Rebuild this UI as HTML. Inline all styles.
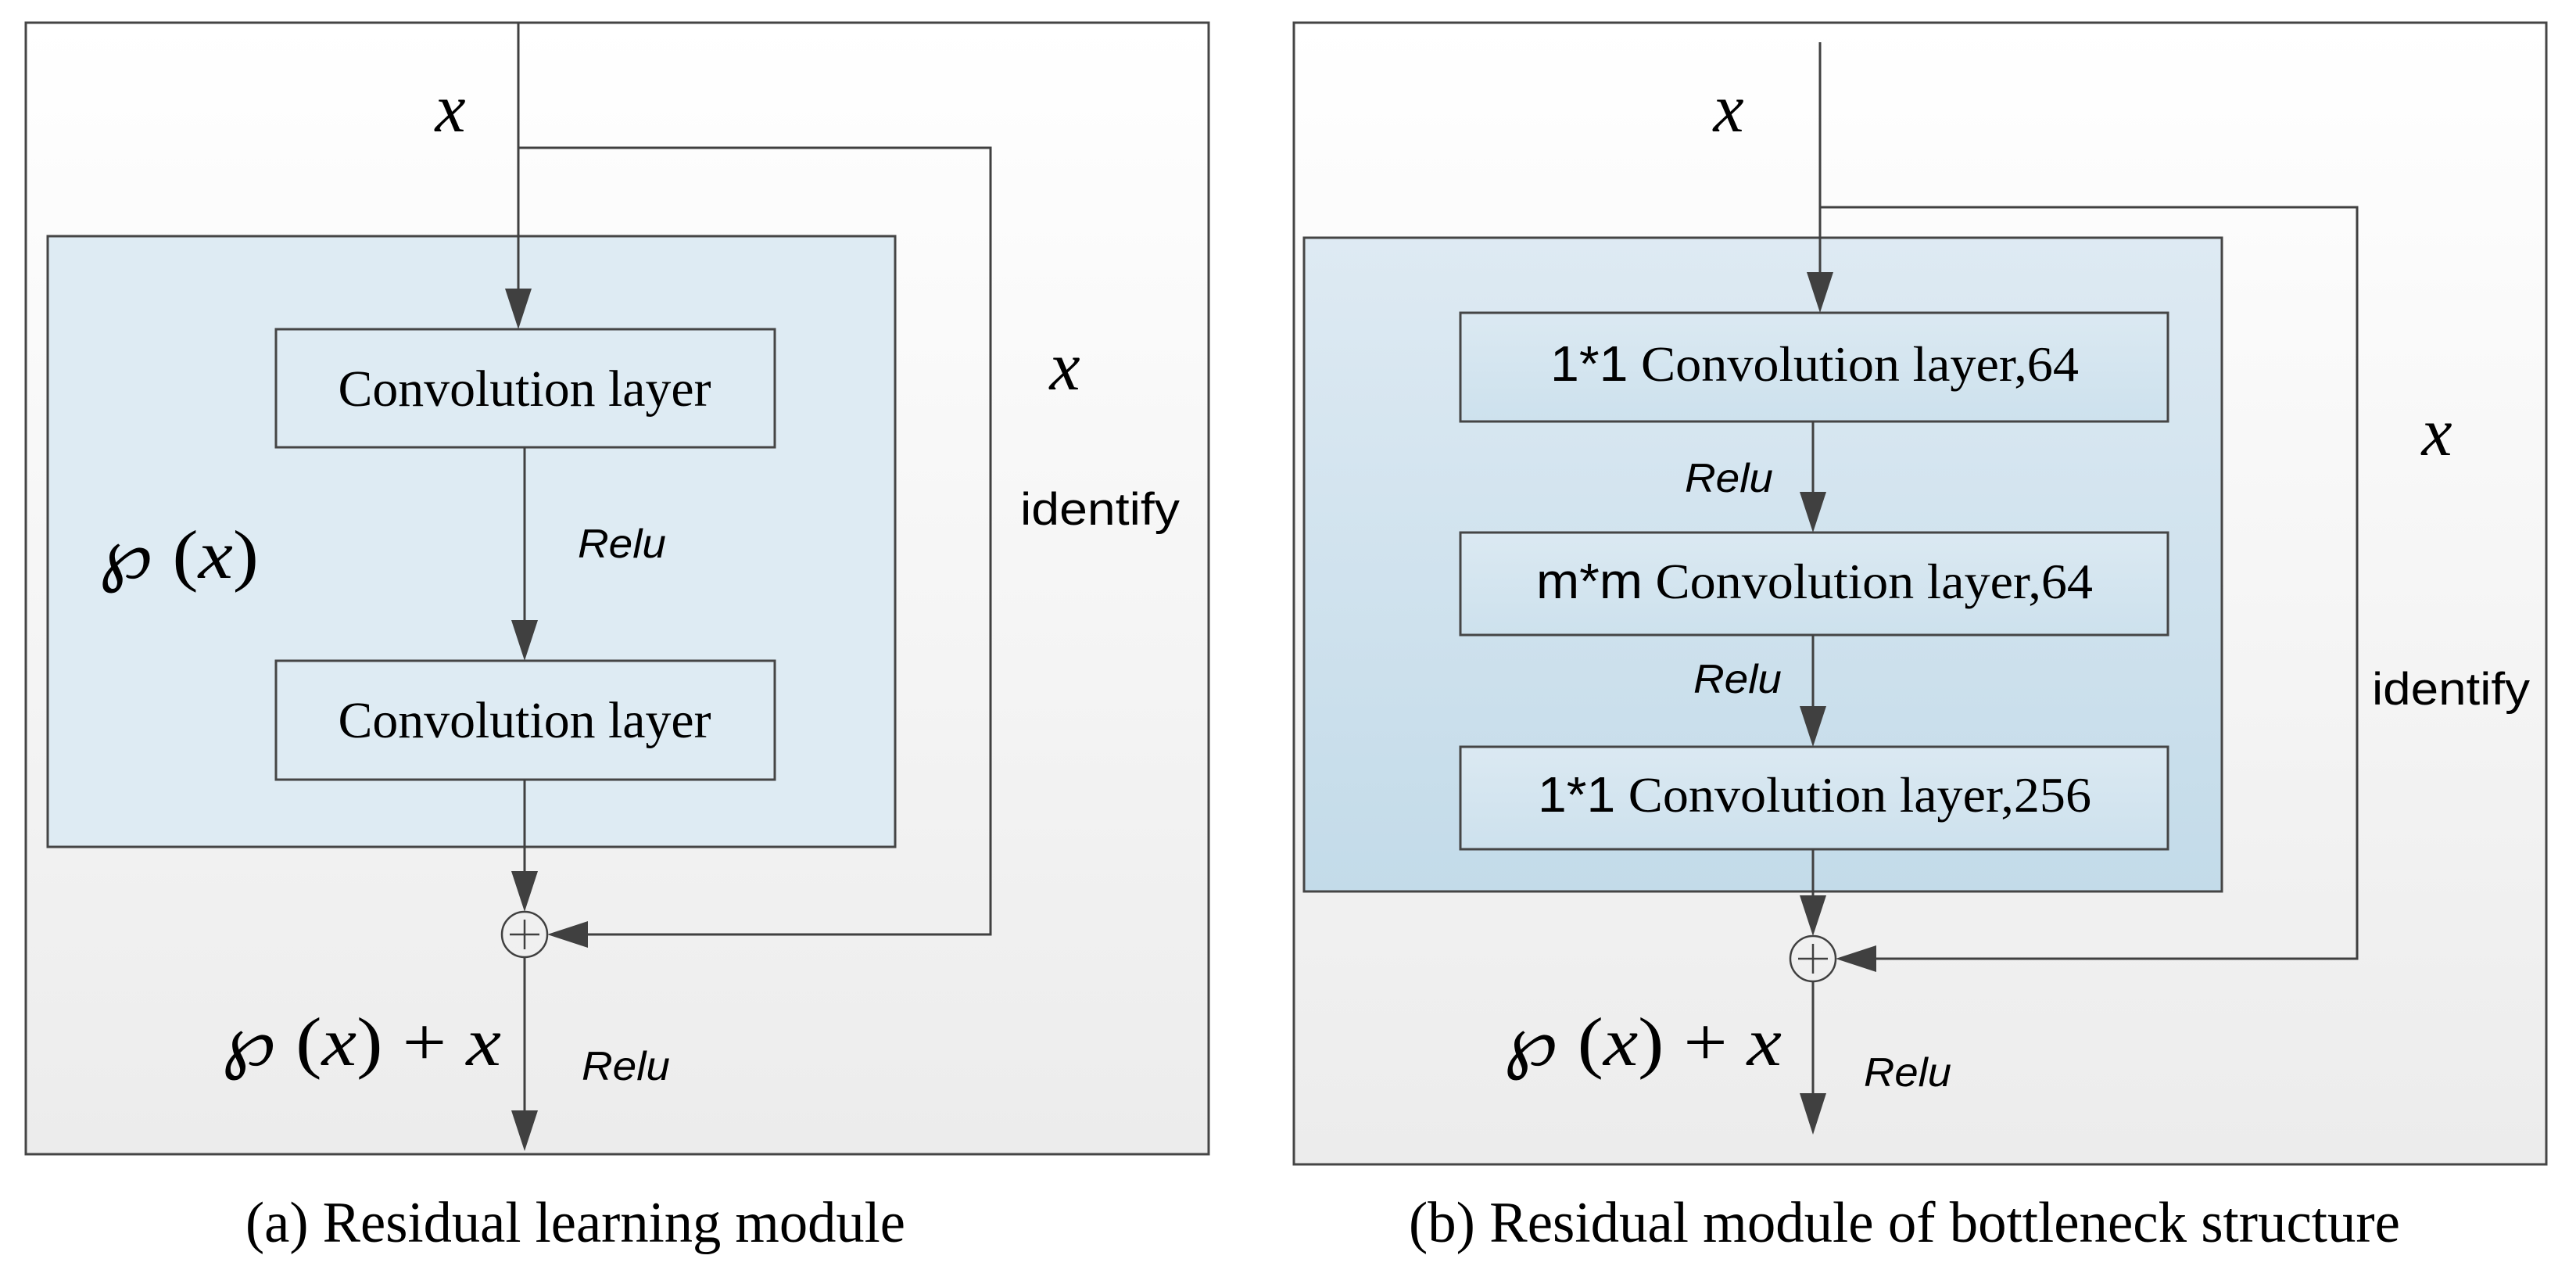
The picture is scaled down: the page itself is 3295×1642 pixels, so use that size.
<!DOCTYPE html>
<html><head><meta charset="utf-8"><style>html,body{margin:0;padding:0;background:#fff}svg{display:block}</style></head><body>
<svg width="3295" height="1642" viewBox="0 0 3295 1642" xmlns="http://www.w3.org/2000/svg">
<defs>
<linearGradient id="og" x1="0" y1="0" x2="0" y2="1"><stop offset="0" stop-color="#ffffff"/><stop offset="1" stop-color="#ececec"/></linearGradient>
<linearGradient id="bg2" x1="0" y1="0" x2="0" y2="1"><stop offset="0" stop-color="#deeaf3"/><stop offset="1" stop-color="#c3dbe9"/></linearGradient>
<linearGradient id="bx2" x1="0" y1="0" x2="0" y2="1"><stop offset="0" stop-color="#dbe9f2"/><stop offset="1" stop-color="#cde1ed"/></linearGradient>
</defs>
<g stroke="#454545" stroke-width="3">
<rect x="33" y="29" width="1513" height="1447" fill="url(#og)"/>
<rect x="1655" y="29" width="1602" height="1460" fill="url(#og)"/>
<rect x="61" y="302" width="1084" height="781" fill="#deebf3"/>
<rect x="1668" y="304" width="1174" height="836" fill="url(#bg2)"/>
<rect x="353" y="421" width="638" height="151" fill="#deebf3"/>
<rect x="353" y="845" width="638" height="152" fill="#deebf3"/>
<rect x="1868" y="400" width="905" height="139" fill="url(#bx2)"/>
<rect x="1868" y="681" width="905" height="131" fill="url(#bx2)"/>
<rect x="1868" y="955" width="905" height="131" fill="url(#bx2)"/>
</g>
<g stroke="#404040" stroke-width="3" fill="none">
<path d="M663 29 V372"/>
<path d="M663 189 H1267 V1195 H740"/>
<path d="M671 572 V795"/>
<path d="M671 997 V1120"/>
<path d="M671 1224 V1422"/>
<circle cx="671" cy="1195" r="29" stroke-width="2.5"/>
<path d="M652 1195 H690 M671 1176 V1214" stroke-width="2.5"/>
<path d="M2328 54 V350"/>
<path d="M2328 265 H3015 V1226 H2388"/>
<path d="M2319 539 V631"/>
<path d="M2319 812 V905"/>
<path d="M2319 1086 V1150"/>
<path d="M2319 1255 V1400"/>
<circle cx="2319" cy="1226" r="29" stroke-width="2.5"/>
<path d="M2300 1226 H2338 M2319 1207 V1245" stroke-width="2.5"/>
</g>
<g fill="#404040">
<polygon points="646,369 680,369 663,421"/>
<polygon points="654,793 688,793 671,845"/>
<polygon points="654,1114 688,1114 671,1166"/>
<polygon points="654,1420 688,1420 671,1472"/>
<polygon points="752,1178 752,1212 700,1195"/>
<polygon points="2311,348 2345,348 2328,400"/>
<polygon points="2302,629 2336,629 2319,681"/>
<polygon points="2302,903 2336,903 2319,955"/>
<polygon points="2302,1145 2336,1145 2319,1197"/>
<polygon points="2302,1398 2336,1398 2319,1451"/>
<polygon points="2400,1209 2400,1243 2348,1226"/>
</g>
<g font-family="Liberation Serif, serif" fill="#000">
<text x="671" y="519" font-size="66" text-anchor="middle" textLength="477" lengthAdjust="spacingAndGlyphs">Convolution layer</text>
<text x="671" y="943" font-size="66" text-anchor="middle" textLength="477" lengthAdjust="spacingAndGlyphs">Convolution layer</text>
<text x="736" y="1588" font-size="74" text-anchor="middle" textLength="844" lengthAdjust="spacingAndGlyphs">(a) Residual learning module</text>
<text x="2436" y="1588" font-size="74" text-anchor="middle" textLength="1268" lengthAdjust="spacingAndGlyphs">(b) Residual module of bottleneck structure</text>
<text x="2321" y="487" font-size="64" text-anchor="middle" textLength="676" lengthAdjust="spacingAndGlyphs"><tspan font-family="Liberation Sans, sans-serif">1*1</tspan> Convolution layer,64</text>
<text x="2321" y="765" font-size="64" text-anchor="middle" textLength="712" lengthAdjust="spacingAndGlyphs"><tspan font-family="Liberation Sans, sans-serif">m*m</tspan> Convolution layer,64</text>
<text x="2321" y="1038" font-size="64" text-anchor="middle" textLength="708" lengthAdjust="spacingAndGlyphs"><tspan font-family="Liberation Sans, sans-serif">1*1</tspan> Convolution layer,256</text>
</g>
<g font-family="Liberation Serif, DejaVu Serif, serif" font-size="88" fill="#000">
<text x="576" y="168" text-anchor="middle" font-style="italic">x</text>
<text x="1362" y="498" text-anchor="middle" font-style="italic">x</text>
<text x="2211" y="168" text-anchor="middle" font-style="italic">x</text>
<text x="3117" y="582" text-anchor="middle" font-style="italic">x</text>
<text x="126" y="739" textLength="205" lengthAdjust="spacingAndGlyphs"><tspan font-family="DejaVu Serif, serif">℘</tspan> (<tspan font-style="italic">x</tspan>)</text>
<text x="283" y="1362" textLength="358" lengthAdjust="spacingAndGlyphs"><tspan font-family="DejaVu Serif, serif">℘</tspan> (<tspan font-style="italic">x</tspan>) + <tspan font-style="italic">x</tspan></text>
<text x="1923" y="1362" textLength="356" lengthAdjust="spacingAndGlyphs"><tspan font-family="DejaVu Serif, serif">℘</tspan> (<tspan font-style="italic">x</tspan>) + <tspan font-style="italic">x</tspan></text>
</g>
<g font-family="Liberation Sans, sans-serif" fill="#000">
<text x="739" y="713" font-size="52" font-style="italic" textLength="113" lengthAdjust="spacingAndGlyphs">Relu</text>
<text x="744" y="1381" font-size="52" font-style="italic" textLength="113" lengthAdjust="spacingAndGlyphs">Relu</text>
<text x="2155" y="629" font-size="52" font-style="italic" textLength="113" lengthAdjust="spacingAndGlyphs">Relu</text>
<text x="2166" y="886" font-size="52" font-style="italic" textLength="113" lengthAdjust="spacingAndGlyphs">Relu</text>
<text x="2384" y="1389" font-size="52" font-style="italic" textLength="112" lengthAdjust="spacingAndGlyphs">Relu</text>
<text x="1305" y="671" font-size="58" textLength="204" lengthAdjust="spacingAndGlyphs">identify</text>
<text x="3034" y="901" font-size="58" textLength="202" lengthAdjust="spacingAndGlyphs">identify</text>
</g>
</svg>
</body></html>
